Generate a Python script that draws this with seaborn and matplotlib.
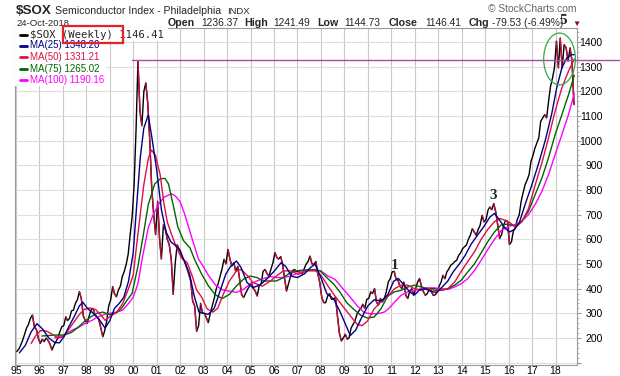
import numpy as np
import pandas as pd
import matplotlib
matplotlib.use("Agg")
import matplotlib.pyplot as plt
import matplotlib.dates as mdates
from matplotlib.ticker import MultipleLocator
from matplotlib.collections import LineCollection
from matplotlib.patches import Ellipse, Rectangle
from matplotlib.lines import Line2D
import seaborn as sns

# ----------------------------------------------------------
# DATA  ($SOX weekly chart)
# ----------------------------------------------------------

# close, about one reading per month, Jan 1995 .. Oct 2018
close_start = "1995-01-01"
close_vals = [
    145, 155, 170, 190, 215, 240, 255, 280, 293, 245, 235, 200,    # 1995
    178, 195, 185, 200, 190, 175, 151, 170, 185, 200, 225, 246,    # 1996
    250, 286, 270, 280, 310, 313, 340, 355, 388, 360, 290, 270,    # 1997
    259, 290, 313, 320, 295, 286, 275, 240, 205, 230, 270, 330,    # 1998
    354, 408, 380, 367, 394, 410, 449, 470, 500, 540, 620, 690,    # 1999
    820, 1050, 1322, 1120, 1060, 1200, 1234, 1150, 1000, 808, 700, 619,  # 2000
    754, 600, 520, 659, 640, 600, 578, 520, 377, 500, 578, 560,    # 2001
    538, 520, 511, 484, 460, 430, 349, 330, 227, 250, 340, 300,    # 2002
    300, 280, 262, 300, 330, 360, 397, 420, 451, 480, 519, 500,    # 2003
    559, 520, 492, 505, 470, 490, 438, 375, 364, 380, 397, 410,    # 2004
    424, 400, 390, 370, 411, 420, 470, 478, 460, 451, 480, 505,    # 2005
    546, 526, 520, 530, 499, 440, 390, 420, 450, 472, 478, 470,    # 2006
    470, 465, 460, 480, 499, 510, 532, 500, 499, 510, 460, 424,    # 2007
    364, 343, 343, 370, 380, 357, 357, 365, 289, 220, 188, 200,    # 2008
    215, 195, 201, 240, 255, 270, 296, 310, 320, 337, 320, 357,    # 2009
    360, 387, 380, 400, 346, 333, 360, 346, 360, 387, 427, 440,    # 2010
    468, 470, 440, 434, 410, 400, 427, 373, 360, 390, 400, 373,    # 2011
    400, 427, 441, 410, 387, 373, 380, 400, 390, 373, 375, 387,    # 2012
    410, 427, 454, 440, 468, 480, 495, 501, 510, 515, 535, 545,    # 2013
    562, 570, 576, 600, 616, 643, 630, 616, 640, 657, 697, 670,    # 2014
    680, 718, 731, 720, 745, 711, 660, 603, 620, 657, 677, 673,    # 2015
    579, 590, 633, 646, 680, 700, 754, 790, 822, 840, 862, 916,    # 2016
    940, 970, 990, 1011, 1078, 1092, 1105, 1092, 1160, 1220, 1254, 1295,  # 2017
    1403, 1295, 1416, 1295, 1389, 1376, 1322, 1376, 1322, 1146,    # 2018
]

# moving averages (decimal year, value)
ma25_year = [1995.15, 1995.4, 1995.65, 1995.9, 1996.15, 1996.4, 1996.65, 1996.85, 1997.05, 1997.25,
             1997.5, 1997.7, 1997.85, 1998.05, 1998.3, 1998.55, 1998.8, 1999.0, 1999.2, 1999.4,
             1999.6, 1999.8, 2000.0, 2000.15, 2000.3, 2000.45, 2000.64, 2000.8, 2001.0, 2001.2,
             2001.4, 2001.6, 2001.8, 2002.0, 2002.2, 2002.4, 2002.6, 2002.8, 2003.0, 2003.2,
             2003.45, 2003.7, 2003.95, 2004.15, 2004.4, 2004.6, 2004.85, 2005.1, 2005.4, 2005.7,
             2006.0, 2006.3, 2006.5, 2006.75, 2007.0, 2007.3, 2007.55, 2007.75, 2008.0, 2008.25,
             2008.55, 2008.8, 2009.05, 2009.25, 2009.48, 2009.7, 2010.0, 2010.27, 2010.57, 2010.85,
             2011.1, 2011.3, 2011.55, 2011.8, 2012.0, 2012.2, 2012.45, 2012.7, 2012.95, 2013.15,
             2013.4, 2013.65, 2013.9, 2014.15, 2014.4, 2014.7, 2014.97, 2015.2, 2015.4, 2015.6,
             2015.85, 2016.05, 2016.25, 2016.45, 2016.7, 2016.99, 2017.27, 2017.56, 2017.84, 2018.05,
             2018.27, 2018.48, 2018.69, 2018.8]
ma25_val = [140, 170, 225, 258, 235, 200, 182, 180, 205, 245,
            290, 330, 345, 320, 300, 275, 240, 270, 320, 340,
            365, 430, 545, 740, 930, 1050, 1104, 1010, 880, 720,
            630, 590, 575, 555, 505, 460, 370, 305, 300, 296,
            320, 390, 460, 490, 512, 485, 425, 404, 415, 440,
            470, 505, 490, 450, 445, 460, 485, 499, 445, 380,
            357, 310, 255, 210, 232, 276, 330, 355, 350, 375,
            430, 441, 414, 385, 375, 395, 400, 388, 385, 405,
            430, 470, 500, 535, 580, 620, 655, 690, 705, 680,
            645, 630, 640, 665, 740, 820, 905, 1000, 1110, 1214,
            1295, 1335, 1349, 1348]

ma50_year = [1995.65, 1995.85, 1996.05, 1996.3, 1996.55, 1996.8, 1997.0, 1997.25, 1997.45, 1997.7,
             1997.9, 1998.15, 1998.4, 1998.6, 1998.8, 1999.05, 1999.3, 1999.55, 1999.8, 2000.0,
             2000.2, 2000.45, 2000.65, 2000.78, 2000.95, 2001.15, 2001.3, 2001.45, 2001.65, 2001.85,
             2002.05, 2002.3, 2002.5, 2002.7, 2002.92, 2003.15, 2003.4, 2003.6, 2003.85, 2004.1,
             2004.4, 2004.6, 2004.9, 2005.1, 2005.5, 2005.85, 2006.1, 2006.4, 2006.7, 2007.05,
             2007.4, 2007.77, 2008.0, 2008.3, 2008.6, 2008.9, 2009.26, 2009.55, 2009.75, 2009.98,
             2010.27, 2010.57, 2010.85, 2011.14, 2011.42, 2011.7, 2011.99, 2012.27, 2012.56, 2012.84,
             2013.13, 2013.41, 2013.7, 2013.98, 2014.26, 2014.55, 2014.83, 2015.11, 2015.4, 2015.65,
             2015.85, 2016.05, 2016.28, 2016.56, 2016.85, 2017.13, 2017.42, 2017.7, 2017.98, 2018.27,
             2018.55, 2018.8]
ma50_val = [178, 210, 230, 228, 215, 200, 205, 235, 262, 295,
            315, 322, 315, 295, 272, 290, 305, 340, 400, 455,
            620, 820, 930, 962, 940, 860, 750, 670, 615, 565,
            525, 505, 455, 395, 365, 318, 305, 320, 380, 431,
            472, 478, 450, 425, 410, 431, 451, 472, 472, 458,
            472, 472, 455, 411, 370, 333, 289, 255, 250, 268,
            318, 348, 368, 400, 414, 414, 400, 393, 400, 393,
            393, 400, 427, 470, 510, 550, 600, 640, 672, 684,
            677, 668, 650, 670, 725, 820, 910, 1011, 1119, 1214,
            1281, 1331]

ma75_year = [1996.1, 1996.4, 1996.7, 1997.05, 1997.35, 1997.6, 1997.9, 1998.2, 1998.45, 1998.7,
             1999.0, 1999.25, 1999.5, 1999.75, 1999.95, 2000.2, 2000.4, 2000.64, 2000.92, 2001.15,
             2001.35, 2001.5, 2001.7, 2001.9, 2002.14, 2002.42, 2002.63, 2002.92, 2003.2, 2003.5,
             2003.8, 2004.1, 2004.4, 2004.7, 2004.98, 2005.27, 2005.55, 2005.85, 2006.1, 2006.4,
             2006.7, 2006.98, 2007.27, 2007.7, 2007.97, 2008.25, 2008.55, 2008.83, 2009.1, 2009.4,
             2009.7, 2009.98, 2010.27, 2010.57, 2010.85, 2011.14, 2011.42, 2011.7, 2011.99, 2012.27,
             2012.56, 2012.84, 2013.13, 2013.41, 2013.7, 2013.98, 2014.26, 2014.55, 2014.83, 2015.11,
             2015.4, 2015.68, 2015.99, 2016.28, 2016.56, 2016.85, 2017.13, 2017.42, 2017.7, 2017.98,
             2018.27, 2018.55, 2018.8]
ma75_val = [208, 210, 212, 212, 222, 239, 265, 286, 300, 305,
            295, 300, 320, 355, 380, 490, 600, 740, 825, 845,
            847, 825, 740, 650, 595, 565, 515, 458, 412, 375,
            360, 377, 411, 438, 451, 445, 431, 431, 431, 445,
            465, 472, 476, 476, 472, 445, 418, 384, 343, 316,
            292, 281, 285, 320, 370, 387, 393, 407, 414, 407,
            400, 400, 393, 400, 414, 434, 468, 501, 545, 590,
            630, 658, 662, 653, 673, 714, 781, 849, 930, 1024,
            1105, 1185, 1265]

ma100_year = [1996.65, 1996.9, 1997.15, 1997.4, 1997.7, 1997.95, 1998.25, 1998.5, 1998.75, 1999.0,
              1999.3, 1999.55, 1999.8, 2000.0, 2000.2, 2000.4, 2000.64, 2000.85, 2001.07, 2001.3,
              2001.63, 2001.8, 2001.99, 2002.2, 2002.5, 2002.78, 2002.95, 2003.2, 2003.5, 2003.8,
              2004.1, 2004.4, 2004.7, 2004.98, 2005.27, 2005.55, 2005.85, 2006.1, 2006.4, 2006.7,
              2006.98, 2007.27, 2007.7, 2008.0, 2008.3, 2008.6, 2008.9, 2009.26, 2009.55, 2009.84,
              2010.13, 2010.4, 2010.7, 2010.9, 2011.14, 2011.42, 2011.7, 2011.99, 2012.27, 2012.56,
              2012.84, 2013.13, 2013.41, 2013.7, 2013.98, 2014.26, 2014.55, 2014.85, 2015.11, 2015.4,
              2015.68, 2015.99, 2016.28, 2016.56, 2016.85, 2017.13, 2017.42, 2017.7, 2017.98, 2018.27,
              2018.55, 2018.8]
ma100_val = [200, 205, 218, 232, 245, 259, 272, 286, 295, 300,
             305, 313, 340, 365, 420, 530, 646, 700, 740, 770,
             785, 775, 754, 700, 605, 520, 495, 455, 415, 395,
             390, 385, 397, 418, 431, 441, 449, 445, 445, 451,
             462, 472, 478, 472, 451, 438, 404, 364, 330, 303,
             298, 298, 305, 320, 346, 373, 387, 393, 400, 403,
             403, 400, 397, 407, 420, 441, 474, 518, 558, 600,
             635, 652, 660, 673, 700, 741, 795, 862, 943, 1024,
             1105, 1190]

ma_names = ["MA(25)", "MA(50)", "MA(75)", "MA(100)"]
ma_last = ["1348.20", "1331.21", "1265.02", "1190.16"]
ma_colors = ["#000088", "#dd1144", "#006600", "#ff00ff"]

peak_2000 = 1326
wave_labels = ["1", "3", "5"]
wave_year = [2011.15, 2015.35, 2018.32]
wave_val = [468, 752, 1462]

header_title = "Semiconductor Index - Philadelphia"
quote_date = "24-Oct-2018"
quote_items = [("Open", "1236.37"), ("High", "1241.49"), ("Low", "1144.73"),
               ("Close", "1146.41"), ("Chg", "-79.53 (-6.49%)")]

# ----------------------------------------------------------
# HELPERS
# ----------------------------------------------------------

def to_date(years):
    years = np.asarray(years, dtype=float)
    whole = np.floor(years).astype(int)
    base = pd.to_datetime(whole.astype(str), format="%Y")
    return base + pd.to_timedelta((years - whole) * 365.25, unit="D")


def fx(px):
    return px / 620


def fy(px):
    return 1 - px / 376


# ----------------------------------------------------------
# FIGURE
# ----------------------------------------------------------

sns.set_style("white")
plt.rcParams["font.family"] = ["Liberation Sans", "DejaVu Sans"]

fig = plt.figure(figsize=(6.2, 3.76), dpi=100)
ax = fig.add_axes([fx(15), fy(365), 562 / 620, 337 / 376])

close_dates = pd.date_range(close_start, periods=len(close_vals), freq="MS") + pd.Timedelta(days=14)
close_arr = np.asarray(close_vals, dtype=float)

# price: black line, down moves in crimson
sns.lineplot(x=close_dates, y=close_arr, ax=ax, color="black", lw=1.0,
             estimator=None, zorder=2)
num = mdates.date2num(close_dates)
pts = np.column_stack([num, close_arr])
segs = np.stack([pts[:-1], pts[1:]], axis=1)
down = close_arr[1:] < close_arr[:-1]
ax.add_collection(LineCollection(segs[down], colors="#c0103c", linewidths=1.0, zorder=3))

# moving averages
ma_years = [ma100_year, ma75_year, ma50_year, ma25_year]
ma_vals = [ma100_val, ma75_val, ma50_val, ma25_val]
for yrs, vals, col in zip(ma_years, ma_vals, ma_colors[::-1]):
    sns.lineplot(x=to_date(yrs), y=vals, ax=ax, color=col, lw=1.0,
                 estimator=None, zorder=4)

# 2000 peak line, runs out past the axis
line_x = to_date([1999.96, 2020.8])
ax.plot(line_x, [peak_2000, peak_2000], color="#a84ca8", lw=1.0,
        clip_on=False, zorder=5)

# green ellipse round the 2018 top
ell_c = mdates.date2num(to_date([2018.17])[0])
ax.add_patch(Ellipse((ell_c, 1331), 1.35 * 365.25, 210, fill=False,
                     edgecolor="#33aa44", lw=0.9, zorder=6))

# wave numbers
for lab, yr, val in zip(wave_labels, wave_year, wave_val):
    ax.text(to_date([yr])[0], val, lab, fontsize=11, fontweight="bold",
            family="Liberation Serif", ha="center", va="bottom",
            clip_on=False, zorder=8)

# axes
ax.set_xlim(to_date([1994.96])[0], to_date([2018.915])[0])
ax.set_ylim(90.5, 1456.5)

ax.xaxis.set_major_locator(mdates.YearLocator())
ax.xaxis.set_major_formatter(mdates.DateFormatter("%y"))
ax.tick_params(axis="x", length=0, pad=0.8, labelsize=7.5, colors="black")

ax.yaxis.tick_right()
yt = list(range(100, 1500, 100))
ax.set_yticks(yt)
ax.set_yticklabels(["" if v == 100 else str(v) for v in yt])
ax.yaxis.set_minor_locator(MultipleLocator(20))
ax.tick_params(axis="y", which="major", length=3, width=0.8, color="#999999",
               labelsize=7.5, pad=15.5, labelcolor="black")
ax.tick_params(axis="y", which="minor", length=1.5, width=0.6, color="#aaaaaa")
for lab in ax.get_yticklabels():
    lab.set_horizontalalignment("right")

ax.set_axisbelow(True)
ax.grid(axis="x", which="major", color="#c8c8c8", lw=0.8)
ax.grid(axis="y", which="major", color="#dedede", lw=0.8)
for sp in ax.spines.values():
    sp.set_color("#999999")
    sp.set_linewidth(0.8)
ax.set_xlabel("")
ax.set_ylabel("")

# legend block (white backing, top-left)
ax.add_patch(Rectangle((fx(15), fy(41)), fx(168) - fx(15), fy(28) - fy(41),
                       transform=fig.transFigure, facecolor="white",
                       edgecolor="none", zorder=6, clip_on=False))
ax.add_patch(Rectangle((fx(15), fy(86)), fx(106) - fx(15), fy(41) - fy(86),
                       transform=fig.transFigure, facecolor="white",
                       edgecolor="none", zorder=6, clip_on=False))

fig.add_artist(Line2D([fx(20), fx(27)], [fy(34.5)] * 2, color="black", lw=2, zorder=10))
fig.text(fx(30), fy(34.5), "$SOX (Weekly) 1146.41", family="DejaVu Sans Mono",
         fontsize=7.7, va="center", zorder=10)
row_y = [45.5, 57, 68.5, 80]
for name, last, col, ry in zip(ma_names, ma_last, ma_colors, row_y):
    fig.add_artist(Line2D([fx(20), fx(27)], [fy(ry)] * 2, color=col, lw=2, zorder=10))
    fig.text(fx(30), fy(ry), f"{name} {last}", color=col, fontsize=7,
             va="center", zorder=10)

# red box around "(Weekly)"
fig.add_artist(Rectangle((fx(62.7), fy(43.3)), fx(123.3) - fx(62.7), fy(26) - fy(43.3),
                         transform=fig.transFigure, fill=False,
                         edgecolor="#e8202a", lw=1.6, zorder=11))

# ----------------------------------------------------------
# HEADER
# ----------------------------------------------------------

fig.text(fx(16), fy(13.5), "$SOX", fontsize=9.6, fontweight="bold", va="baseline")
fig.text(fx(55), fy(13.5), header_title, fontsize=7.6, va="baseline")
fig.text(fx(227), fy(13.5), "INDX", fontsize=6.8, va="baseline")
fig.text(fx(576), fy(12.5), "\u00a9 StockCharts.com", fontsize=7.4,
         color="#666666", ha="right", va="baseline")

fig.text(fx(16), fy(26), quote_date, fontsize=6.8, va="baseline")
label_x = [168, 244, 317, 389, 469]
value_x = [201, 273, 344, 425, 492]
for (lab, val), lx, vx in zip(quote_items, label_x, value_x):
    fig.text(fx(lx), fy(26), lab, fontsize=7.7, fontweight="bold", va="baseline")
    fig.text(fx(vx), fy(26), val, fontsize=7.4, va="baseline")
fig.text(fx(572), fy(26), "\u25bc", fontsize=6, color="#99002a", va="baseline")

fig.savefig("out.png", dpi=100)
plt.close(fig)
